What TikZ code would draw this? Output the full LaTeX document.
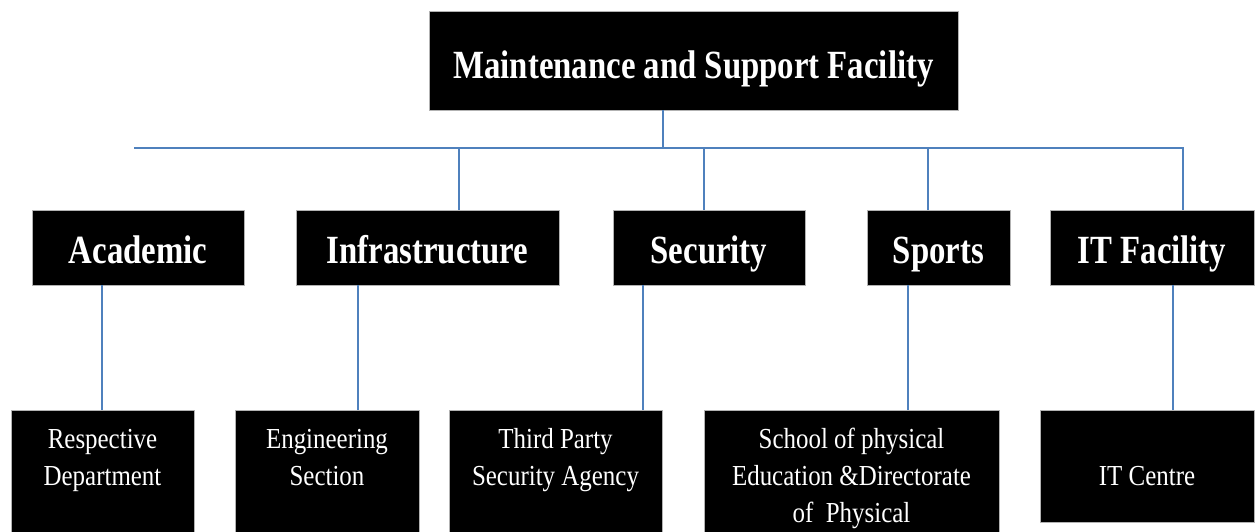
\documentclass[tikz,border=0pt]{standalone}
\usepackage{fontspec}
\setmainfont{Liberation Serif}
\newfontfamily\grasfont[FakeStretch=0.82]{Liberation Serif}
\newfontfamily\finfont[FakeStretch=0.86]{Liberation Serif}
\usepackage{tikz}
\usetikzlibrary{positioning}
\definecolor{lienbleu}{RGB}{79,129,189}

\tikzset{
  boite/.style={fill=black, draw=gray!60, line width=0.8pt, text=white, inner sep=0pt},
  titre/.style={boite, text height=38pt, text depth=7pt, font=\grasfont\bfseries\fontsize{40}{48}\selectfont},
  service/.style={boite, anchor=north, align=flush center, text height=38pt, text depth=90pt,
    font=\finfont\fontsize{29}{37}\selectfont},
  lien/.style={draw=lienbleu, line width=1.6pt}
}

\begin{document}
\begin{tikzpicture}[x=1pt,y=-1pt]
  \path[use as bounding box, fill=white] (0,0) rectangle (1255,531);

  % Sommet de l'organigramme
  \node[titre, minimum width=529pt, minimum height=99pt, text height=42pt] (msf) at (693.5,60.5) {Maintenance and Support Facility};

  % Deuxième niveau
  \node[titre, minimum width=212pt, minimum height=75pt] (acad) at (138,247.5) {Academic};
  \node[titre, minimum width=263pt, minimum height=75pt] (infra) at (427.5,247.5) {Infrastructure};
  \node[titre, minimum width=192pt, minimum height=75pt] (secu) at (709,247.5) {Security};
  \node[titre, minimum width=143pt, minimum height=75pt] (sport) at (938.5,247.5) {Sports};
  \node[titre, minimum width=204pt, minimum height=75pt] (itf) at (1152,247.5) {IT Facility};

  % Troisième niveau
  \node[service, text width=183pt] (resp) at (102.5,410) {Respective\\Department};
  \node[service, text width=184pt] (eng) at (327,410) {Engineering\\Section};
  \node[service, text width=213pt] (agency) at (555.5,410) {Third Party\\Security Agency};
  \node[service, text width=295pt] (spe) at (851.5,410) {School of physical\\Education \&Directorate\\of \ Physical};
  \node[service, text width=214pt, text height=75pt, text depth=37pt] (itc) at (1147,410) {IT Centre};

  % Barre horizontale et descentes
  \coordinate (tige) at (663,148);
  \coordinate (busG) at (134,148);
  \coordinate (busD) at (1183,148);
  \coordinate (d1) at (459,148);
  \coordinate (d2) at (704,148);
  \coordinate (d3) at (928,148);
  \draw[lien] (msf.south -| tige) -- (tige);
  \draw[lien] (busG) -- (busD) -- (itf.north -| busD);
  \draw[lien] (d1) -- (infra.north -| d1);
  \draw[lien] (d2) -- (secu.north -| d2);
  \draw[lien] (d3) -- (sport.north -| d3);

  % Liens vers le troisième niveau
  \coordinate (v1) at (102,0);
  \coordinate (v2) at (358,0);
  \coordinate (v3) at (643,0);
  \coordinate (v4) at (908,0);
  \coordinate (v5) at (1173,0);
  \draw[lien] (acad.south -| v1) -- (resp.north -| v1);
  \draw[lien] (infra.south -| v2) -- (eng.north -| v2);
  \draw[lien] (secu.south -| v3) -- (agency.north -| v3);
  \draw[lien] (sport.south -| v4) -- (spe.north -| v4);
  \draw[lien] (itf.south -| v5) -- (itc.north -| v5);
\end{tikzpicture}
\end{document}
